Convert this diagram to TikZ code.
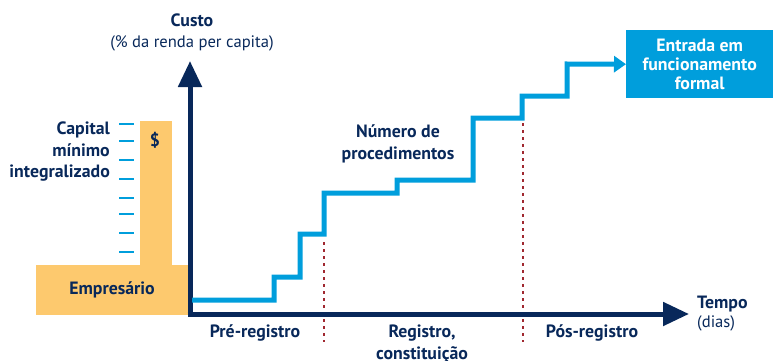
\documentclass[tikz,border=0pt]{standalone}
\usepackage{fontspec}
\setmainfont{PT Sans}
\usetikzlibrary{arrows.meta}
\definecolor{navy}{RGB}{8,40,90}
\definecolor{skyb}{RGB}{0,158,220}
\definecolor{orng}{RGB}{253,201,110}
\definecolor{dred}{RGB}{160,40,48}
\tikzset{
  lbl/.style={text=navy, font=\fontsize{17.8}{21.5}\selectfont\bfseries, align=center, inner sep=0pt},
  lblr/.style={text=navy, font=\fontsize{16.6}{21}\selectfont, align=center, inner sep=0pt},
  axis/.style={draw=navy, line width=5pt},
  stepline/.style={draw=skyb, line width=5pt},
  dotline/.style={draw=dred, line width=2.6pt, dash pattern=on 2.6pt off 4.4pt},
  tick/.style={draw=skyb, line width=2pt},
}
\begin{document}
\begin{tikzpicture}[x=1pt,y=-1pt]
\useasboundingbox (0,0) rectangle (773,361);
% orange shapes
\fill[orng] (140,121) rectangle (172,266);
\fill[orng] (36,265) rectangle (188,315);
\node[lbl] (emp) at (112,290) {Empresário};
\node[lbl] (dol) at (155,140) {\$};
% ticks
\foreach \y in {124,141,160,179,198,214,233,252}
  \draw[tick] (119,\y) -- (134,\y);
\node[lbl, align=right, anchor=east] (cap) at (110,152) {Capital\\mínimo\\integralizado};
% dotted lines
\coordinate (d1t) at (324,242);
\coordinate (d1b) at (324,342);
\coordinate (d2t) at (523,123);
\coordinate (d2b) at (523,342);
\draw[dotline] (d1t) -- (d1b);
\draw[dotline] (d2t) -- (d2b);
% axes
\coordinate (o) at (190,314);
\coordinate (ytop) at (190,61);
\coordinate (xend) at (689,314);
\draw[axis, -{Triangle[length=26pt,width=23pt]}] ([yshift=2.5pt]o) -- (ytop);
\draw[axis, -{Triangle[length=26pt,width=23pt]}] ([xshift=-2.5pt]o) -- (xend);
% box
\node[fill=skyb, text=white, font=\fontsize{17.8}{19}\selectfont\bfseries, align=center,
      minimum width=147pt, minimum height=68pt, inner sep=0pt, anchor=north west] (box) at (626,30)
      {Entrada em\\funcionamento\\formal};
% step line
\coordinate (s0) at (192,300);
\draw[stepline, -{Triangle[length=12pt,width=16pt]}] (s0) -| (274,277) -| (300,234) -| (324,193) -| (397,180) -| (473,118) -| (522,96) -| (567,64) -- (box.west);
% labels
\node[lbl] (custo) at (192,20) {Custo};
\node[lblr] (renda) at (192,43) {(\% da renda per capita)};
\node[lbl] (num) at (398,144) {Número de\\procedimentos};
\node[lbl] (pre) at (255,333) {Pré-registro};
\node[lbl] (reg) at (422,344) {Registro,\\constituição};
\node[lbl] (pos) at (592,333) {Pós-registro};
\node[lbl, anchor=west] (tempo) at (697,304) {Tempo};
\node[lblr, anchor=west] (dias) at (697,323) {(dias)};
\end{tikzpicture}
\end{document}
